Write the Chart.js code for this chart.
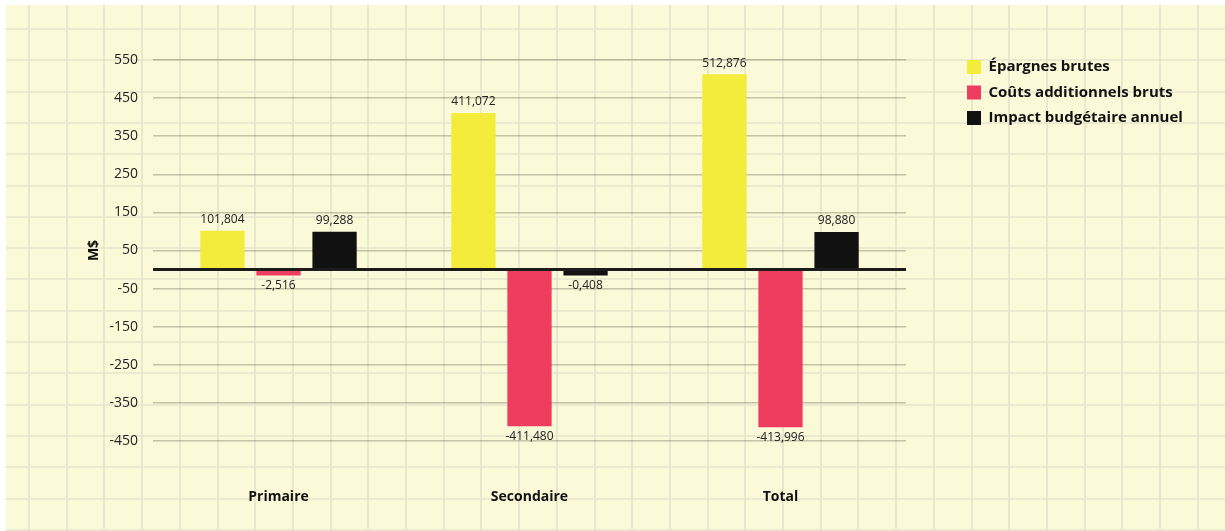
<!DOCTYPE html>
<html><head><meta charset="utf-8">
<script src="https://cdn.jsdelivr.net/npm/chart.js@4.4.1/dist/chart.umd.min.js"></script>
<style>html,body{margin:0;padding:0;background:#fff;overflow:hidden;} #wrap{width:1225px;height:531px;position:relative;}</style>
</head><body><div id="wrap"><canvas id="c" width="1225" height="531"></canvas></div>
<script>
const categories = ['Primaire', 'Secondaire', 'Total'];
const seriesNames = ['Épargnes brutes', 'Coûts additionnels bruts', 'Impact budgétaire annuel'];
const epargnesBrutes = [101.804, 411.072, 512.876];
const coutsAdditionnels = [-2.516, -411.480, -413.996];
const impactBudgetaire = [99.288, -0.408, 98.880];
const yMin = -450, yMax = 550, yStep = 100;
const yTitle = 'M$';
const seriesColors = ['#F3EC3B', '#EF3D60', '#111111'];

const FONT = '"Open Sans", Lato, sans-serif';
Chart.defaults.font.family = FONT;
Chart.defaults.color = '#222';

const bgPlugin = {
  id: 'bg',
  beforeDraw(chart) {
    const ctx = chart.ctx, W = chart.width, H = chart.height;
    ctx.save();
    ctx.fillStyle = '#ffffff';
    ctx.fillRect(0, 0, W, H);
    ctx.fillStyle = '#FAF9D8';
    ctx.fillRect(6, 5, W - 6, H - 5);
    ctx.strokeStyle = '#E6E3CD';
    ctx.lineWidth = 1.6;
    for (let x = 29; x < W; x += 37.7) {
      ctx.beginPath(); ctx.moveTo(Math.round(x), 5); ctx.lineTo(Math.round(x), H); ctx.stroke();
    }
    for (let y = 29; y < H; y += 31.3) {
      ctx.beginPath(); ctx.moveTo(6, Math.round(y)); ctx.lineTo(W, Math.round(y)); ctx.stroke();
    }
    ctx.restore();
  }
};

const zeroLinePlugin = {
  id: 'zeroLine',
  afterDatasetsDraw(chart) {
    const {ctx, chartArea, scales} = chart;
    const y = scales.y.getPixelForValue(0);
    ctx.save();
    ctx.strokeStyle = '#1c1c1c';
    ctx.lineWidth = 3;
    ctx.beginPath(); ctx.moveTo(chartArea.left, y); ctx.lineTo(chartArea.right, y); ctx.stroke();
    ctx.restore();
  }
};

const valueLabelPlugin = {
  id: 'valueLabels',
  afterDatasetsDraw(chart) {
    const ctx = chart.ctx;
    ctx.save();
    ctx.font = '12px ' + FONT;
    ctx.fillStyle = '#222';
    ctx.textAlign = 'center';
    ctx.textBaseline = 'middle';
    chart.data.datasets.forEach((ds, di) => {
      chart.getDatasetMeta(di).data.forEach((bar, i) => {
        const v = ds.data[i];
        const txt = v.toFixed(3).replace('.', ',');
        const y = v < 0 ? bar.y + 10 : bar.y - 11;
        ctx.fillText(txt, bar.x, y);
      });
    });
    ctx.restore();
  }
};

const legendShiftPlugin = {
  id: 'legendShift',
  afterUpdate(chart) {
    const lg = chart.legend;
    if (!lg) return;
    const w = lg.width, h = lg.height;
    lg.left = 956.5; lg.right = lg.left + w;
    lg.top = 49; lg.bottom = lg.top + h;
  }
};

const chart = new Chart(document.getElementById('c'), {
  type: 'bar',
  data: {
    labels: categories,
    datasets: [
      { label: seriesNames[0], data: epargnesBrutes, backgroundColor: seriesColors[0] },
      { label: seriesNames[1], data: coutsAdditionnels, backgroundColor: seriesColors[1] },
      { label: seriesNames[2], data: impactBudgetaire, backgroundColor: seriesColors[2] }
    ]
  },
  options: {
    responsive: false,
    animation: false,
    categoryPercentage: 0.67,
    barPercentage: 0.79,
    minBarLength: 6,
    layout: { padding: { top: 60, bottom: 0, left: 0, right: 80 } },
    plugins: {
      tooltip: { enabled: false },
      legend: {
        position: 'right',
        align: 'start',
        labels: {
          boxWidth: 14, boxHeight: 14, padding: 10.5,
          color: '#111',
          font: { size: 15, weight: 'bold' }
        }
      }
    },
    scales: {
      x: {
        grid: { display: false, drawTicks: false },
        border: { display: false },
        ticks: { padding: 48, color: '#111', font: { size: 14, weight: 'bold' } },
        afterFit(scale) { scale.height = 90; }
      },
      y: {
        min: yMin, max: yMax,
        ticks: { stepSize: yStep, padding: 15, color: '#222', font: { size: 14 } },
        grid: { color: 'rgba(70,70,50,0.30)', lineWidth: 1.5, drawTicks: false },
        border: { display: false },
        title: { display: true, text: yTitle, color: '#111', font: { size: 14, weight: 'bold' }, padding: { top: 86, bottom: 0 } },
        afterFit(scale) { scale.width = 153; }
      }
    }
  },
  plugins: [bgPlugin, zeroLinePlugin, valueLabelPlugin, legendShiftPlugin]
});
// make the plot area end at x = 906 like the reference
for (let k = 0; k < 3; k++) {
  const diff = 906 - chart.chartArea.right;
  if (Math.abs(diff) < 0.5) break;
  chart.options.layout.padding.right = Math.max(0, chart.options.layout.padding.right - diff);
  chart.update();
}
</script>
</body></html>
